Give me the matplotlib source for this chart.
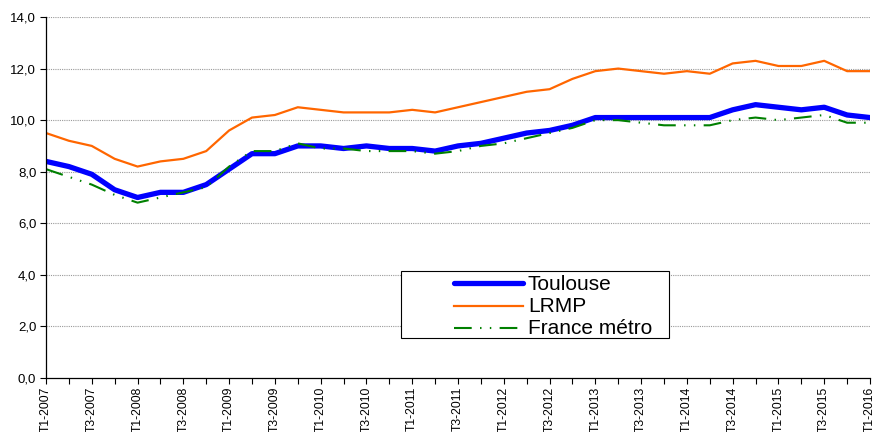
import matplotlib
matplotlib.use("Agg")
import matplotlib.pyplot as plt
from matplotlib.ticker import FuncFormatter, MultipleLocator
from matplotlib.lines import Line2D
from matplotlib.patches import Rectangle

quarters = [f"T{q}-{y}" for y in range(2007, 2016) for q in (1, 2, 3, 4)] + ["T1-2016"]

toulouse = [8.4, 8.2, 7.9, 7.3, 7.0, 7.2, 7.2, 7.5, 8.1, 8.7, 8.7, 9.0, 9.0, 8.9, 9.0, 8.9,
            8.9, 8.8, 9.0, 9.1, 9.3, 9.5, 9.6, 9.8, 10.1, 10.1, 10.1, 10.1, 10.1, 10.1,
            10.4, 10.6, 10.5, 10.4, 10.5, 10.2, 10.1]
lrmp = [9.5, 9.2, 9.0, 8.5, 8.2, 8.4, 8.5, 8.8, 9.6, 10.1, 10.2, 10.5, 10.4, 10.3, 10.3, 10.3,
        10.4, 10.3, 10.5, 10.7, 10.9, 11.1, 11.2, 11.6, 11.9, 12.0, 11.9, 11.8, 11.9, 11.8,
        12.2, 12.3, 12.1, 12.1, 12.3, 11.9, 11.9]
france = [8.1, 7.8, 7.5, 7.1, 6.8, 7.0, 7.2, 7.4, 8.2, 8.8, 8.8, 9.1, 8.9, 8.9, 8.8, 8.8,
          8.8, 8.7, 8.8, 9.0, 9.1, 9.3, 9.5, 9.7, 10.0, 10.0, 9.9, 9.8, 9.8, 9.8,
          10.0, 10.1, 10.0, 10.1, 10.2, 9.9, 9.9]
series_names = ["Toulouse", "LRMP", "France métro"]

plt.rcParams['font.family'] = ['Liberation Sans', 'DejaVu Sans']

W, H = 877, 432
fig = plt.figure(figsize=(W / 100, H / 100), dpi=100)
ax = fig.add_axes([46 / W, (H - 378) / H, (870 - 46) / W, (378 - 17) / H])

styles = [
    dict(color="#0000FF", lw=3.8, solid_capstyle="round"),
    dict(color="#FF6600", lw=1.6),
    dict(color="#008000", lw=1.5, dashes=(8.5, 4, 0.7, 4, 0.7, 4)),
]

x = list(range(len(quarters)))
for vals, name, st in zip([toulouse, lrmp, france], series_names, styles):
    ax.plot(x, vals, label=name, **st)

ax.set_xlim(0, len(quarters) - 1)
ax.set_ylim(0, 14)
ax.yaxis.set_major_locator(MultipleLocator(2))
ax.yaxis.set_major_formatter(FuncFormatter(lambda v, p: f"{v:.1f}".replace(".", ",")))
ax.set_xticks(x)
ax.set_xticklabels([q if i % 2 == 0 else "" for i, q in enumerate(quarters)], rotation=90, fontsize=8.8)
ax.tick_params(axis='y', labelsize=9.5, length=4, width=0.8, direction='out', pad=3)
ax.tick_params(axis='x', length=4, width=0.8, direction='out', pad=2)

for v in range(2, 15, 2):
    ax.axhline(v, color="#9a9a9a", lw=0.8, ls=(0, (1, 1)), zorder=0)

for s in ("top", "right"):
    ax.spines[s].set_visible(False)
ax.spines["left"].set_linewidth(0.9)
ax.spines["bottom"].set_linewidth(0.9)

# Legend drawn manually to match placement (pixel coordinates converted to figure fraction)
def fx(px):
    return px / W

def fy(py):
    return 1 - py / H

fig.add_artist(Rectangle((fx(401), fy(338)), fx(669) - fx(401), fy(271) - fy(338),
                         transform=fig.transFigure, facecolor="white", edgecolor="black",
                         lw=0.8, zorder=5))
rows = [283, 305.5, 328]
for name, st, ry in zip(series_names, styles, rows):
    fig.add_artist(Line2D([fx(454), fx(523)], [fy(ry), fy(ry)], transform=fig.transFigure,
                          zorder=6, **st))
    fig.text(fx(528), fy(ry + 1), name, fontsize=15, va="center", ha="left", zorder=6)

fig.savefig("out.png", dpi=100)
